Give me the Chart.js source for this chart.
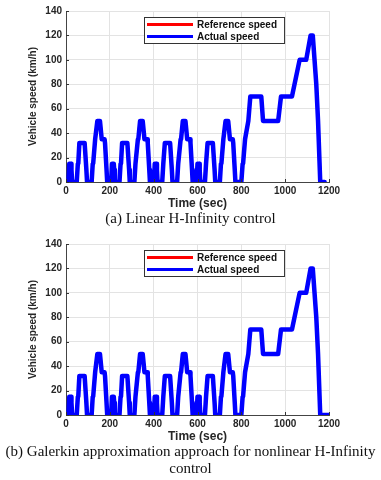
<!DOCTYPE html>
<html>
<head>
<meta charset="utf-8">
<script src="https://cdn.jsdelivr.net/npm/chart.js@4"></script>
<style>
  body { margin: 0; background: #fff; }
  #page { position: relative; width: 381px; height: 480px; overflow: hidden; }
  canvas { position: absolute; left: 0; }
  .caption {
    position: absolute; left: 0; width: 381px; text-align: center;
    font-family: "Liberation Serif", "Times New Roman", serif;
    font-size: 15px; line-height: 17px; color: #111; white-space: nowrap;
  }
</style>
</head>
<body>
<div id="page">
  <canvas id="chartA" width="381" height="212" style="top:0"></canvas>
  <canvas id="chartB" width="381" height="212" style="top:233px"></canvas>
  <div class="caption" style="top:210px">(a) Linear H-Infinity control</div>
  <div class="caption" style="top:443px">(b) Galerkin approximation approach for nonlinear H-Infinity<br>control</div>
</div>
<script>
// NEDC speed profile breakpoints (time in s, speed in km/h)
// four urban ECE-15 cycles followed by the extra-urban EUDC part
const nedcTime = [
  0, 11, 15, 23, 25, 28, 49, 54, 56, 61, 85, 93, 96, 117, 122, 124, 133, 135, 143, 155, 163, 176, 178, 185, 188,
  195, 206, 210, 218, 220, 223, 244, 249, 251, 256, 280, 288, 291, 312, 317, 319, 328, 330, 338, 350, 358, 371, 373, 380, 383,
  390, 401, 405, 413, 415, 418, 439, 444, 446, 451, 475, 483, 486, 507, 512, 514, 523, 525, 533, 545, 553, 566, 568, 575, 578,
  585, 596, 600, 608, 610, 613, 634, 639, 641, 646, 670, 678, 681, 702, 707, 709, 718, 720, 728, 740, 748, 761, 763, 770, 773,
  780, 800, 806, 808, 817, 819, 832, 834, 841, 891, 899, 968, 981, 1031, 1066, 1096, 1116, 1126, 1142, 1150, 1160, 1180
];
const nedcSpeed = [
  0, 0, 15, 15, 10, 0, 0, 15, 15, 32, 32, 10, 0, 0, 15, 15, 35, 35, 50, 50, 35, 35, 32, 10, 0,
  0, 0, 15, 15, 10, 0, 0, 15, 15, 32, 32, 10, 0, 0, 15, 15, 35, 35, 50, 50, 35, 35, 32, 10, 0,
  0, 0, 15, 15, 10, 0, 0, 15, 15, 32, 32, 10, 0, 0, 15, 15, 35, 35, 50, 50, 35, 35, 32, 10, 0,
  0, 0, 15, 15, 10, 0, 0, 15, 15, 32, 32, 10, 0, 0, 15, 15, 35, 35, 50, 50, 35, 35, 32, 10, 0,
  0, 0, 15, 15, 35, 35, 50, 50, 70, 70, 50, 50, 70, 70, 100, 100, 120, 120, 80, 50, 0, 0
];
// chart (b) keeps idling until the end of the axis
const tailTime = [1200];
const tailSpeed = [0];

const xTicks = [0, 200, 400, 600, 800, 1000, 1200];
const yTicks = [0, 20, 40, 60, 80, 100, 120, 140];
const seriesNames = ['Reference speed', 'Actual speed'];
const seriesColors = ['#ff0000', '#0000ff'];

const sans = 'Liberation Sans, Arial, sans-serif';

function points(times, speeds) {
  return times.map((t, i) => ({ x: t, y: speeds[i] }));
}

// legend box drawn inside the axes, MATLAB style
const boxLegend = {
  id: 'boxLegend',
  afterDatasetsDraw(chart) {
    const ctx = chart.ctx;
    const area = chart.chartArea;
    const x0 = area.left + 78, y0 = area.top + 6;
    ctx.save();
    ctx.font = 'bold 10px ' + sans;
    let tw = 0;
    chart.data.datasets.forEach(d => { tw = Math.max(tw, ctx.measureText(d.label).width); });
    const w = 3 + 46 + 4 + tw + 7, h = 26;
    ctx.fillStyle = '#fff';
    ctx.fillRect(x0, y0, w, h);
    ctx.strokeStyle = '#333';
    ctx.lineWidth = 1;
    ctx.strokeRect(x0 + 0.5, y0 + 0.5, w, h);
    chart.data.datasets.forEach((d, i) => {
      const yy = y0 + 7.5 + i * 12;
      ctx.strokeStyle = d.borderColor;
      ctx.lineWidth = 3;
      ctx.beginPath();
      ctx.moveTo(x0 + 3, yy);
      ctx.lineTo(x0 + 49, yy);
      ctx.stroke();
      ctx.fillStyle = '#111';
      ctx.textBaseline = 'middle';
      ctx.fillText(d.label, x0 + 53, yy + 0.5);
    });
    ctx.restore();
  }
};

// small inward tick marks on the left and bottom axes
const inTicks = {
  id: 'inTicks',
  afterDatasetsDraw(chart) {
    const ctx = chart.ctx;
    const area = chart.chartArea;
    const xs = chart.scales.x, ys = chart.scales.y;
    ctx.save();
    ctx.strokeStyle = '#333';
    ctx.lineWidth = 1;
    ctx.beginPath();
    xTicks.forEach(v => {
      const px = Math.round(xs.getPixelForValue(v)) + 0.5;
      ctx.moveTo(px, area.bottom);
      ctx.lineTo(px, area.bottom - 3);
    });
    yTicks.forEach(v => {
      const py = Math.round(ys.getPixelForValue(v)) + 0.5;
      ctx.moveTo(area.left, py);
      ctx.lineTo(area.left + 3, py);
    });
    ctx.stroke();
    ctx.restore();
  }
};

function makeChart(id, times, speeds) {
  const data = points(times, speeds);
  return new Chart(document.getElementById(id), {
    type: 'line',
    data: {
      datasets: [{
        label: seriesNames[0],
        data: data,
        borderColor: seriesColors[0],
        borderWidth: 3,
        order: 1
      }, {
        label: seriesNames[1],
        data: data,
        borderColor: seriesColors[1],
        borderWidth: 4.5,
        order: 0
      }]
    },
    options: {
      responsive: false,
      animation: false,
      devicePixelRatio: 1,
      layout: { padding: { left: 27, right: 52, top: 11, bottom: 0 } },
      elements: {
        point: { radius: 0 },
        line: { tension: 0, borderJoinStyle: 'round', borderCapStyle: 'round' }
      },
      plugins: {
        legend: { display: false },
        tooltip: { enabled: false },
        title: { display: false }
      },
      scales: {
        x: {
          type: 'linear',
          min: 0,
          max: 1200,
          afterBuildTicks: s => { s.ticks = xTicks.map(v => ({ value: v })); },
          afterFit: s => { s.height = 30; },
          ticks: {
            color: '#262626', padding: 3,
            font: { family: sans, size: 10, weight: 'bold' },
            callback: v => String(v)
          },
          grid: { color: '#e3e3e3', drawTicks: false },
          border: { color: '#444' },
          title: {
            display: true,
            text: 'Time (sec)',
            color: '#262626',
            padding: { top: 0, bottom: 1 },
            font: { family: sans, size: 12, weight: 'bold' }
          }
        },
        y: {
          min: 0,
          max: 140,
          afterBuildTicks: s => { s.ticks = yTicks.map(v => ({ value: v })); },
          afterFit: s => { s.width = 39; },
          ticks: {
            color: '#262626', padding: 4,
            font: { family: sans, size: 10, weight: 'bold' },
            callback: v => String(v)
          },
          grid: { color: '#e3e3e3', drawTicks: false },
          border: { color: '#444' },
          title: {
            display: true,
            text: 'Vehicle speed (km/h)',
            color: '#262626',
            padding: { top: 0, bottom: 0 },
            font: { family: sans, size: 10, weight: 'bold' }
          }
        }
      }
    },
    plugins: [inTicks, boxLegend]
  });
}

makeChart('chartA', nedcTime, nedcSpeed);
makeChart('chartB', nedcTime.concat(tailTime), nedcSpeed.concat(tailSpeed));
</script>
</body>
</html>
